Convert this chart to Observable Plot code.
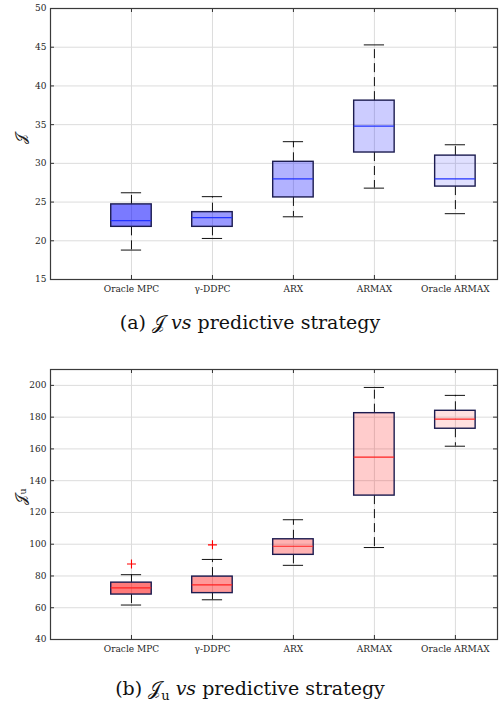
<!DOCTYPE html>
<html>
<head>
<meta charset="utf-8">
<script src="https://cdn.jsdelivr.net/npm/d3@7"></script>
<script src="https://cdn.jsdelivr.net/npm/@observablehq/plot@0.6"></script>
<style>
  body { margin: 0; background: #fff; width: 500px; height: 704px; position: relative; overflow: hidden; }
  .panel { position: absolute; left: 0; width: 500px; }
  .cap { position: absolute; left: 0; width: 500px; text-align: center; font-family: "DejaVu Serif", "Liberation Serif", serif; font-size: 19px; color: #111; line-height: 24px; }
  .cap i { font-style: italic; }
</style>
</head>
<body>
<div id="pa" class="panel" style="top:0px"></div>
<div class="cap" style="top:310px">(a) 𝒥 <i>vs</i> predictive strategy</div>
<div id="pb" class="panel" style="top:360px"></div>
<div class="cap" style="top:676px">(b) 𝒥<sub style="font-size:13px">u</sub> <i>vs</i> predictive strategy</div>
<script>
// ---- data ----
const categories = ["Oracle MPC", "γ-DDPC", "ARX", "ARMAX", "Oracle ARMAX"];

// Panel (a): J
const J_lo  = [18.8, 20.3, 23.1, 26.8, 23.5];
const J_q1  = [21.8, 21.8, 25.6, 31.4, 27.0];
const J_med = [22.6, 23.0, 28.0, 34.8, 28.0];
const J_q3  = [24.7, 23.7, 30.2, 38.1, 31.0];
const J_hi  = [26.2, 25.7, 32.8, 45.3, 32.4];
const J_ticks = [15, 20, 25, 30, 35, 40, 45, 50];

// Panel (b): J_u
const Ju_lo  = [61.7, 65.0, 86.7, 97.9, 161.7];
const Ju_q1  = [68.3, 69.2, 93.3, 130.6, 172.7];
const Ju_med = [72.5, 74.4, 98.7, 154.8, 178.7];
const Ju_q3  = [75.8, 79.6, 103.1, 182.5, 184.0];
const Ju_hi  = [80.8, 90.4, 115.4, 198.7, 193.7];
const Ju_outCat = ["Oracle MPC", "γ-DDPC"];
const Ju_outVal = [87.5, 99.6];
const Ju_ticks = [40, 60, 80, 100, 120, 140, 160, 180, 200];

// ---- styles ----
const boxOpacity = [0.52, 0.40, 0.30, 0.20, 0.12];
const W = 500, H = 300, mL = 50, mR = 3, mT = 8, mB = 21;
const innerW = W - mL - mR;
const font = "'DejaVu Serif', 'Liberation Serif', serif";

function panel({lo, q1, med, q3, hi, ticks, domain, fillColor, medColor, ylabel, outCat = [], outVal = [], marginTop = mT}) {
  const rows = categories.map((c, k) => ({i: k + 1, c, lo: lo[k], q1: q1[k], med: med[k], q3: q3[k], hi: hi[k], op: boxOpacity[k]}));
  const outs = outCat.map((c, k) => ({i: categories.indexOf(c) + 1, v: outVal[k]}));
  const idx = categories.map((c, k) => k + 1);
  const iH = H - marginTop - mB;
  return Plot.plot({
    width: W, height: H,
    marginLeft: mL, marginRight: mR, marginTop, marginBottom: mB,
    style: {fontFamily: font, fontSize: "9px", color: "#262626", background: "#fff"},
    x: {domain: [0, 5.52], axis: null},
    y: {domain, axis: null},
    marks: [
      Plot.gridY(ticks, {stroke: "#dcdcdc", strokeOpacity: 1}),
      Plot.gridX(idx, {stroke: "#dcdcdc", strokeOpacity: 1}),
      Plot.ruleX(rows, {x: "i", y1: "q3", y2: "hi", stroke: "#111", strokeWidth: 1, strokeDasharray: "9,5"}),
      Plot.ruleX(rows, {x: "i", y1: "q1", y2: "lo", stroke: "#111", strokeWidth: 1, strokeDasharray: "9,5"}),
      Plot.ruleY(rows, {y: "hi", x1: d => d.i - 0.125, x2: d => d.i + 0.125, stroke: "#111", strokeWidth: 1}),
      Plot.ruleY(rows, {y: "lo", x1: d => d.i - 0.125, x2: d => d.i + 0.125, stroke: "#111", strokeWidth: 1}),
      Plot.rect(rows, {x1: d => d.i - 0.25, x2: d => d.i + 0.25, y1: "q1", y2: "q3", fill: fillColor, fillOpacity: "op"}),
      Plot.rect(rows, {x1: d => d.i - 0.25, x2: d => d.i + 0.25, y1: "q1", y2: "q3", fill: "none", stroke: "#1c1c50", strokeWidth: 1.4}),
      Plot.ruleY(rows, {y: "med", x1: d => d.i - 0.25, x2: d => d.i + 0.25, stroke: medColor, strokeWidth: 1.2}),
      Plot.dot(outs, {x: "i", y: "v", symbol: "plus", stroke: "#ff0000", r: 3, strokeWidth: 1.1}),
      // inward ticks
      Plot.tickY(ticks, {y: d => d, insetRight: innerW - 4, stroke: "#333"}),
      Plot.tickY(ticks, {y: d => d, insetLeft: innerW - 4, stroke: "#333"}),
      Plot.tickX(idx, {x: d => d, insetTop: iH - 4, stroke: "#333"}),
      Plot.tickX(idx, {x: d => d, insetBottom: iH - 4, stroke: "#333"}),
      Plot.frame({stroke: "#3a3a3a", strokeWidth: 1.2}),
      Plot.axisY(ticks, {tickSize: 0, tickPadding: 4, fontSize: 9, label: null}),
      Plot.axisX(idx, {tickSize: 0, tickPadding: 6, fontSize: 9, label: null, tickFormat: d => categories[d - 1]}),
      Plot.text([ylabel], {text: d => d, frameAnchor: "left", dx: -29, rotate: -90, fontSize: 15, fill: "#222"})
    ]
  });
}

document.getElementById("pa").append(panel({
  lo: J_lo, q1: J_q1, med: J_med, q3: J_q3, hi: J_hi,
  ticks: J_ticks, domain: [15, 50], fillColor: "#0000ff", medColor: "#2233ff", ylabel: "𝒥"
}));
document.getElementById("pb").append(panel({
  lo: Ju_lo, q1: Ju_q1, med: Ju_med, q3: Ju_q3, hi: Ju_hi,
  ticks: Ju_ticks, domain: [40, 210], fillColor: "#ff0000", medColor: "#ff2020", ylabel: "𝒥ᵤ",
  outCat: Ju_outCat, outVal: Ju_outVal, marginTop: 9
}));
</script>
</body>
</html>
